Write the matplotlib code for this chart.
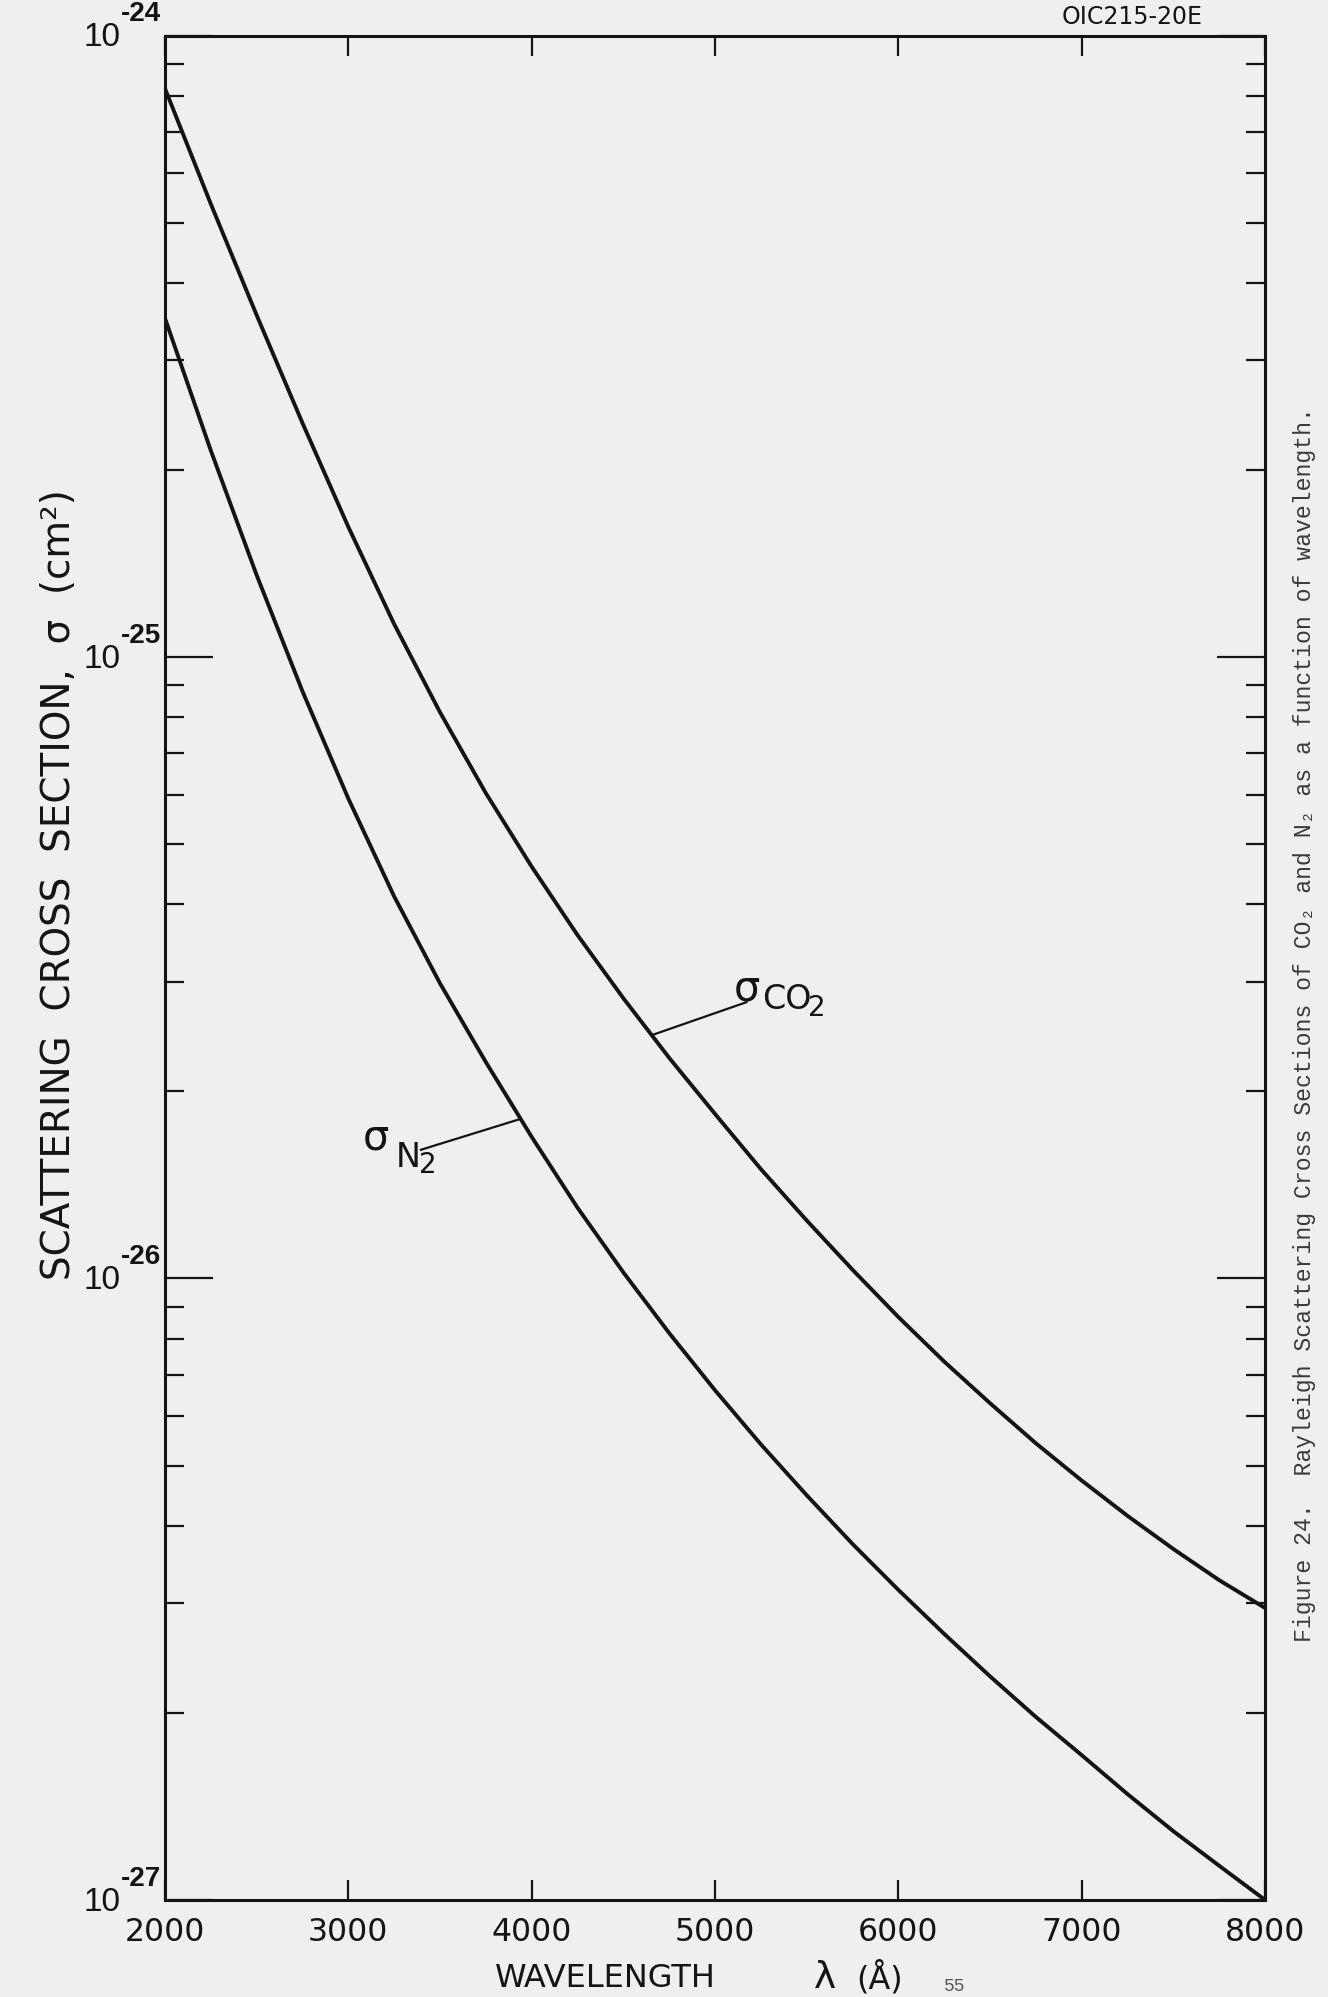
import matplotlib
matplotlib.use("Agg")
import matplotlib.pyplot as plt
import numpy as np
from matplotlib.ticker import FixedLocator, LogLocator, NullFormatter, NullLocator

# values (cm^2)
wavelength = [2000, 2250, 2500, 2750, 3000, 3250, 3500, 3750, 4000, 4250, 4500, 4750, 5000,
              5250, 5500, 5750, 6000, 6250, 6500, 6750, 7000, 7250, 7500, 7750, 8000]
sigma_co2 = [8.22e-25, 5.36e-25, 3.55e-25, 2.38e-25, 1.62e-25, 1.13e-25, 8.15e-26, 6.04e-26,
             4.60e-26, 3.57e-26, 2.825e-26, 2.265e-26, 1.84e-26, 1.50e-26, 1.24e-26, 1.033e-26,
             8.67e-27, 7.35e-27, 6.30e-27, 5.43e-27, 4.73e-27, 4.15e-27, 3.67e-27, 3.27e-27, 2.95e-27]
sigma_n2 = [3.51e-25, 2.15e-25, 1.355e-25, 8.81e-26, 5.92e-26, 4.12e-26, 2.985e-26, 2.23e-26,
            1.69e-26, 1.30e-26, 1.023e-26, 8.17e-27, 6.61e-27, 5.41e-27, 4.48e-27, 3.74e-27,
            3.155e-27, 2.68e-27, 2.29e-27, 1.97e-27, 1.71e-27, 1.48e-27, 1.29e-27, 1.135e-27, 1.0e-27]

x_ticks = [2000, 3000, 4000, 5000, 6000, 7000, 8000]
decades = [1e-24, 1e-25, 1e-26, 1e-27]
decade_exps = ["-24", "-25", "-26", "-27"]

# where the label leaders touch the curves
co2_label_wl = 4655
n2_label_wl = 3940

paper = "#efefef"
ink = "#141414"
narrow = ["Liberation Sans", "DejaVu Sans"]

fig = plt.figure(figsize=(13.28, 19.97), dpi=100, facecolor=paper)
ax = fig.add_axes([0.1242, 0.0486, 0.8284, 0.9336])
ax.set_facecolor(paper)

ax.plot(wavelength, sigma_co2, color=ink, lw=2.8)
ax.plot(wavelength, sigma_n2, color=ink, lw=2.8)

ax.set_yscale("log")
ax.set_xlim(2000, 8000)
ax.set_ylim(1e-27, 1e-24)

for s in ax.spines.values():
    s.set_linewidth(2.2)
    s.set_color(ink)

# y axis: long ticks at decades, short ones in between, both sides, pointing in
ax.yaxis.set_major_locator(FixedLocator(decades))
ax.yaxis.set_minor_locator(LogLocator(base=10, subs=np.arange(2, 10), numticks=20))
ax.yaxis.set_major_formatter(NullFormatter())
ax.yaxis.set_minor_formatter(NullFormatter())
ax.tick_params(axis="y", which="major", direction="in", length=34.5, width=1.6,
               left=True, right=True, color=ink)
ax.tick_params(axis="y", which="minor", direction="in", length=13.7, width=1.6,
               left=True, right=True, color=ink)

ax.set_xticks(x_ticks)
ax.set_xticklabels([str(v) for v in x_ticks])
ax.xaxis.set_minor_locator(NullLocator())
ax.tick_params(axis="x", which="major", direction="in", length=14.4, width=1.6,
               top=True, bottom=True, labelsize=22.7, pad=12, color=ink, labelcolor=ink)

# decade labels drawn as 10 with a raised exponent
for d, e in zip(decades, decade_exps):
    ax.annotate("10", xy=(0, d), xycoords=("axes fraction", "data"), xytext=(-32, -1.5),
                textcoords="offset points", ha="right", va="center", fontsize=24,
                family=narrow, color=ink)
    ax.annotate(e, xy=(0, d), xycoords=("axes fraction", "data"), xytext=(-31.5, 6),
                textcoords="offset points", ha="left", va="bottom", fontsize=20,
                fontweight="bold", family=narrow, color=ink)

# curve labels with leader lines
co2_y = 10 ** np.interp(co2_label_wl, wavelength, np.log10(sigma_co2))
n2_y = 10 ** np.interp(n2_label_wl, wavelength, np.log10(sigma_n2))

ax.annotate("", xy=(co2_label_wl, co2_y), xytext=(68.4, 23.8), textcoords="offset points",
            arrowprops=dict(arrowstyle="-", lw=1.6, color=ink, shrinkA=0, shrinkB=0))
ax.annotate("σ", xy=(co2_label_wl, co2_y), xytext=(59, 33.8), textcoords="offset points",
            ha="left", va="center", fontsize=30, color=ink)
ax.annotate("CO", xy=(co2_label_wl, co2_y), xytext=(79.2, 25.5), textcoords="offset points",
            ha="left", va="center", fontsize=24, color=ink)
ax.annotate("2", xy=(co2_label_wl, co2_y), xytext=(112.3, 19.4), textcoords="offset points",
            ha="left", va="center", fontsize=20, color=ink)

ax.annotate("", xy=(n2_label_wl, n2_y), xytext=(-72, -22.3), textcoords="offset points",
            arrowprops=dict(arrowstyle="-", lw=1.6, color=ink, shrinkA=0, shrinkB=0))
ax.annotate("σ", xy=(n2_label_wl, n2_y), xytext=(-113.8, -13.5), textcoords="offset points",
            ha="left", va="center", fontsize=30, color=ink)
ax.annotate("N", xy=(n2_label_wl, n2_y), xytext=(-90, -28.1), textcoords="offset points",
            ha="left", va="center", fontsize=24, color=ink)
ax.annotate("2", xy=(n2_label_wl, n2_y), xytext=(-73.4, -33), textcoords="offset points",
            ha="left", va="center", fontsize=20, color=ink)

# axis titles
ax.text(0.4, -0.042, "WAVELENGTH", transform=ax.transAxes, ha="center", va="center",
        fontsize=23, color=ink)
ax.text(0.60, -0.042, "λ", transform=ax.transAxes, ha="center", va="center",
        fontsize=27, color=ink)
ax.text(0.65, -0.042, "(Å)", transform=ax.transAxes, ha="center", va="center",
        fontsize=23, color=ink)
ax.text(-0.0962, 0.5444, "SCATTERING  CROSS  SECTION,  σ  (cm²)", transform=ax.transAxes,
        rotation=90, ha="center", va="center", fontsize=28, color=ink)

fig.text(1132 / 1328, 1 - 16.5 / 1997, "OIC215-20E", ha="center", va="center",
         fontsize=17, color=ink)
fig.text(1305 / 1328, 1 - 1025 / 1997,
         "Figure 24.  Rayleigh Scattering Cross Sections of CO₂ and N₂ as a function of wavelength.",
         rotation=90, ha="center", va="center", fontsize=16.7,
         family=["Liberation Mono", "DejaVu Sans Mono"], color="#3a3a3a")
fig.text(955 / 1328, 1 - 1978 / 1997, "55", ha="center", va="top", fontsize=13,
         family=["Liberation Mono", "DejaVu Sans Mono"], color="#555555")

fig.savefig("out.png", dpi=100, facecolor=fig.get_facecolor())
